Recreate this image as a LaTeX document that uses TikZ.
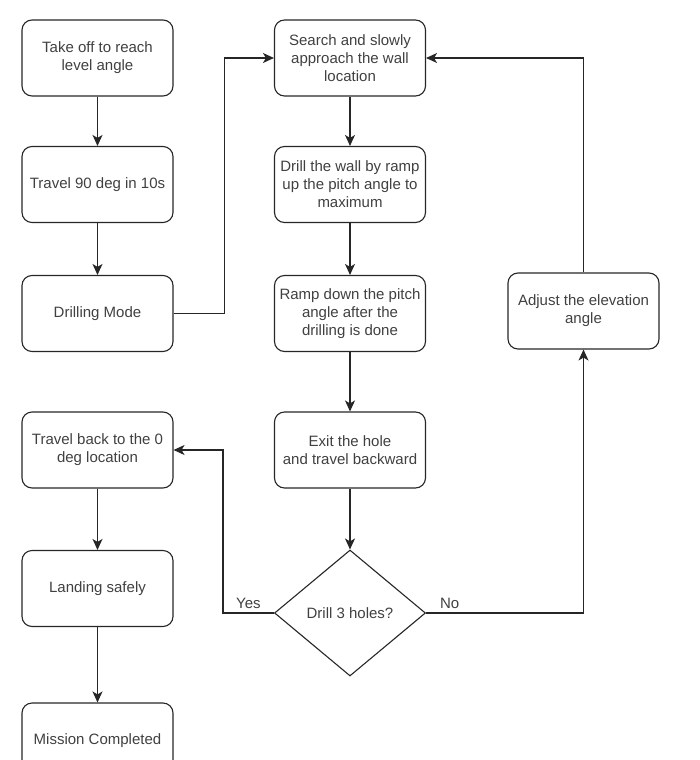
\documentclass[tikz,border=0pt]{standalone}
\usepackage{fontspec}
\setmainfont{Liberation Sans}
\usetikzlibrary{shapes.geometric,arrows.meta}
\begin{document}
\begin{tikzpicture}[x=1pt,y=-1pt,>={Stealth[length=11pt,width=10pt,inset=3pt]},line width=1.1pt,
  font=\fontsize{15}{18}\selectfont,
  stepbox/.style={draw=black!85,rounded corners=10pt,minimum width=151pt,minimum height=76pt,align=center,text=black!75,inner sep=0pt},
  decide/.style={diamond,draw=black!85,minimum width=151pt,minimum height=126pt,inner sep=0pt,text=black!75},
  flow/.style={->,draw=black!85},
  lbl/.style={text=black!75,inner sep=4pt}]
  \def\colA{97.5}
  \def\colB{350}
  \def\colC{583.5}
  \useasboundingbox (0,0) rectangle (700,760);

  % left column
  \node[stepbox] (takeoff) at (\colA,58) {Take off to reach\\level angle};
  \node[stepbox] (travel) at (\colA,184.5) {Travel 90 deg in 10s};
  \node[stepbox] (mode) at (\colA,313.5) {Drilling Mode};
  \node[stepbox] (back) at (\colA,450) {Travel back to the 0\\deg location};
  \node[stepbox] (landing) at (\colA,588.5) {Landing safely};
  \node[stepbox] (done) at (\colA,741) {Mission Completed};

  % middle column
  \node[stepbox] (search) at (\colB,58) {Search and slowly\\approach the wall\\location};
  \node[stepbox] (drill) at (\colB,184.5) {Drill the wall by ramp\\up the pitch angle to\\maximum};
  \node[stepbox] (rampdown) at (\colB,313.5) {Ramp down the pitch\\angle after the\\drilling is done};
  \node[stepbox] (exit) at (\colB,450) {Exit the hole\\and travel backward};
  \node[decide] (holes) at (\colB,613) {Drill 3 holes?};

  % right column
  \node[stepbox] (adjust) at (\colC,311) {Adjust the elevation\\angle};

  \draw[flow] (takeoff) -- (travel);
  \draw[flow] (travel) -- (mode);
  \draw[flow] (mode.east) -- ++(51,0) |- (search.west);
  \draw[flow] (search) -- (drill);
  \draw[flow] (drill) -- (rampdown);
  \draw[flow] (rampdown) -- (exit);
  \draw[flow] (exit) -- (holes);
  \draw[flow] (holes.west) -- node[midway,above,lbl]{Yes} ++(-51,0) |- (back.east);
  \draw[flow] (holes.east) -- node[pos=0.15,above,lbl]{No} (holes.east -| adjust.south) -- (adjust.south);
  \draw[flow] (adjust.north) |- (search.east);
  \draw[flow] (back) -- (landing);
  \draw[flow] (landing) -- (done);
\end{tikzpicture}
\end{document}
